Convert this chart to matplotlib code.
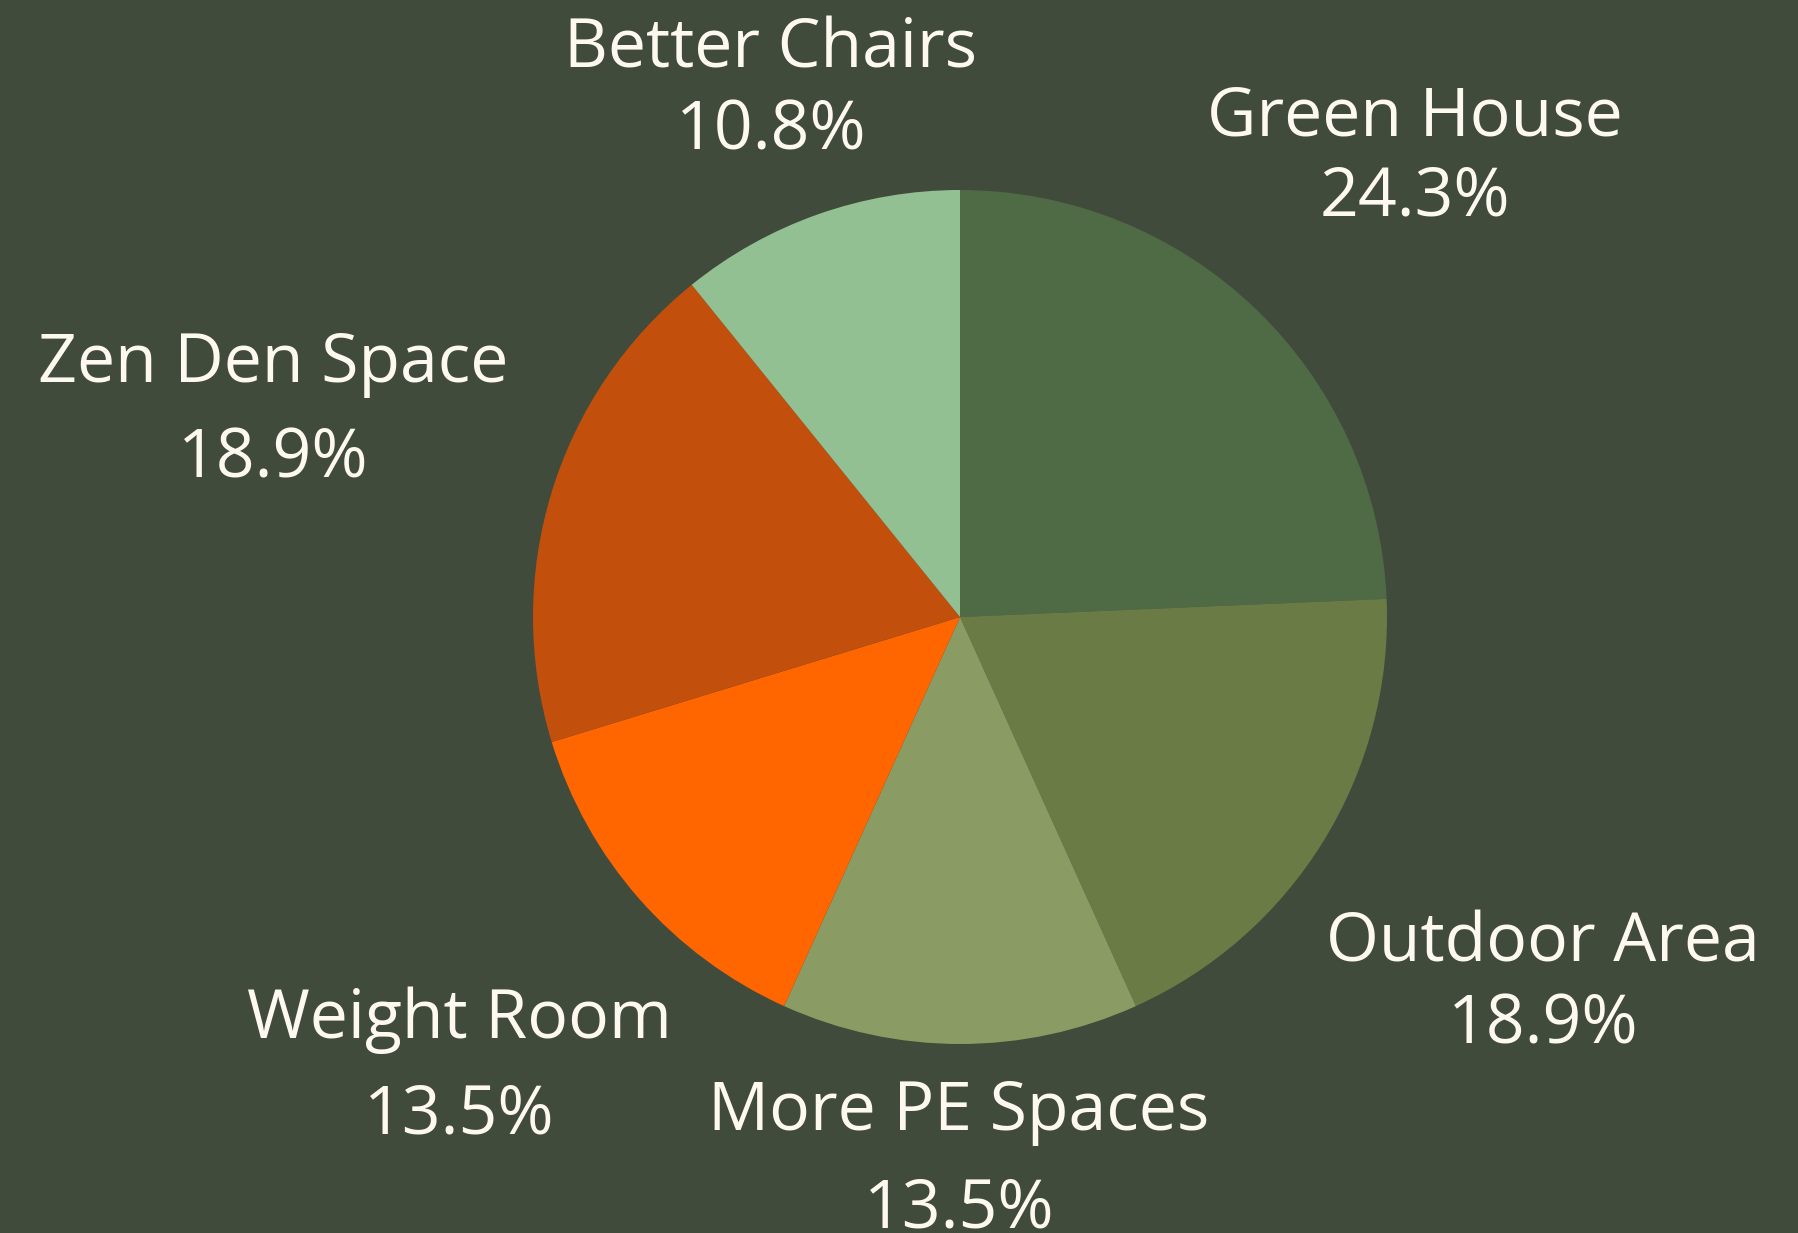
import matplotlib.pyplot as plt
import matplotlib

matplotlib.rcParams['font.family'] = ['Open Sans', 'DejaVu Sans']

# votes per idea, clockwise from 12 o'clock
labels = ['Green House', 'Outdoor Area', 'More PE Spaces',
          'Weight Room', 'Zen Den Space', 'Better Chairs']
votes = [9, 7, 5, 5, 7, 4]
colors = ['#4e6b46', '#6a7b45', '#8a9b63', '#ff6600', '#c24f0c', '#93c093']

bg = '#414b3b'
txt = '#fdf8f0'
W, H = 1799, 1233

# label layout in pixels: x centre, baseline of name, baseline of percent
label_pos = [(1415, 135, 216), (1543, 961, 1044), (959, 1130, 1227),
             (459, 1038, 1134), (273, 382, 478), (771, 68, 150)]

fig = plt.figure(figsize=(W / 100, H / 100), dpi=100, facecolor=bg)
ax = fig.add_axes([0, 0, 1, 1])
ax.set_facecolor(bg)

ax.pie(votes, colors=colors, startangle=90, counterclock=False,
       center=(960, H - 617), radius=427,
       wedgeprops=dict(linewidth=0))

total = sum(votes)
for lab, v, (x, y1, y2) in zip(labels, votes, label_pos):
    ax.text(x, H - y1, lab, ha='center', va='baseline',
            fontsize=49, color=txt)
    ax.text(x, H - y2, '%.1f%%' % (100 * v / total), ha='center',
            va='baseline', fontsize=49, color=txt)

ax.set_aspect('auto')
ax.set_xlim(0, W)
ax.set_ylim(0, H)
ax.axis('off')

fig.savefig('out.png', dpi=100, facecolor=bg)
